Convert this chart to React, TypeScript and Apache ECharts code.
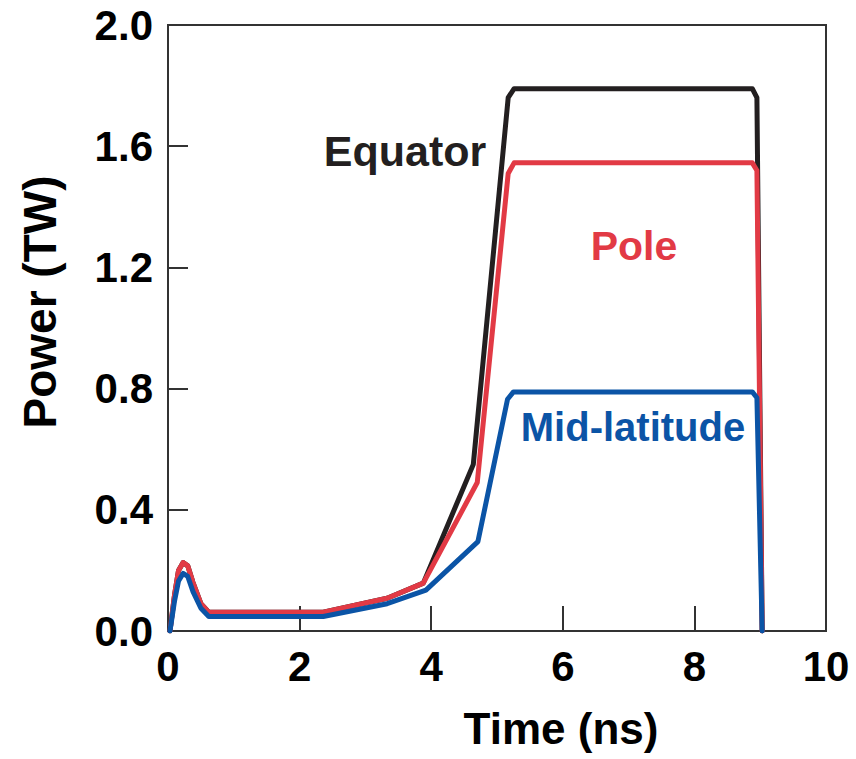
import React, { useEffect, useRef } from "react";
import * as echarts from "echarts";

const equator: [number, number][] = [
  [0.03, 0], [0.1, 0.12], [0.16, 0.2], [0.23, 0.226], [0.3, 0.215], [0.38, 0.16],
  [0.5, 0.09], [0.62, 0.062], [2.36, 0.062], [3.33, 0.108], [3.88, 0.158],
  [4.64, 0.55], [5.17, 1.76], [5.26, 1.79], [8.88, 1.79], [8.95, 1.76], [9.03, 0],
];
const pole: [number, number][] = [
  [0.03, 0], [0.1, 0.12], [0.16, 0.2], [0.23, 0.226], [0.3, 0.215], [0.38, 0.16],
  [0.5, 0.09], [0.62, 0.062], [2.36, 0.062], [3.33, 0.108], [3.88, 0.158],
  [4.7, 0.49], [5.17, 1.51], [5.26, 1.545], [8.88, 1.545], [8.95, 1.52], [9.03, 0],
];
const midLatitude: [number, number][] = [
  [0.03, 0], [0.1, 0.1], [0.16, 0.165], [0.23, 0.19], [0.3, 0.18], [0.38, 0.13],
  [0.5, 0.075], [0.62, 0.048], [2.36, 0.048], [3.33, 0.09], [3.92, 0.135],
  [4.71, 0.295], [5.16, 0.765], [5.25, 0.789], [8.88, 0.789], [8.95, 0.77], [9.03, 0],
];

const seriesNames = ["Equator", "Pole", "Mid-latitude"];
const seriesColors = ["#231f20", "#e23a45", "#0b54a6"];
const xTitle = "Time (ns)";
const yTitle = "Power (TW)";

export default function App() {
  const ref = useRef<HTMLDivElement>(null);
  useEffect(() => {
    if (!ref.current) return;
    const chart = echarts.init(ref.current, undefined, { renderer: "svg" });
    const font = "'Liberation Sans', Arial, Helvetica, sans-serif";
    const datasets = [equator, pole, midLatitude];
    chart.setOption({
      animation: false,
      backgroundColor: "#ffffff",
      grid: {
        left: 168, right: 30, top: 25, bottom: 128,
        show: true, borderColor: "#333333", borderWidth: 2, backgroundColor: "transparent",
      },
      xAxis: {
        type: "value", min: 0, max: 10, interval: 2,
        axisLine: { show: true, lineStyle: { color: "#333333", width: 2 } },
        axisTick: { show: true, inside: true, length: 25, lineStyle: { color: "#333333", width: 2 } },
        splitLine: { show: false },
        axisLabel: { color: "#000", fontSize: 42, fontWeight: "bold", fontFamily: font, margin: 14 },
      },
      yAxis: {
        type: "value", min: 0, max: 2, interval: 0.4,
        axisLine: { show: true, lineStyle: { color: "#333333", width: 2 } },
        axisTick: { show: true, inside: true, length: 20, lineStyle: { color: "#333333", width: 2 } },
        splitLine: { show: false },
        axisLabel: {
          color: "#000", fontSize: 42, fontWeight: "bold", fontFamily: font, margin: 15,
          formatter: (v: number) => v.toFixed(1),
        },
      },
      series: datasets.map((d, i) => ({
        name: seriesNames[i],
        type: "line",
        data: d,
        showSymbol: false,
        symbol: "none",
        lineStyle: { color: seriesColors[i], width: 5, join: "round", cap: "round" },
        z: 2 + i,
      })),
      graphic: [
        {
          type: "text", x: 561, y: 728,
          style: { text: xTitle, fontSize: 44, fontWeight: "bold", fontFamily: font, fill: "#000", align: "center", verticalAlign: "middle" },
        },
        {
          type: "text", x: 40, y: 302, rotation: Math.PI / 2,
          style: { text: yTitle, fontSize: 46, fontWeight: "bold", fontFamily: font, fill: "#000", align: "center", verticalAlign: "middle" },
        },
        {
          type: "text", x: 405, y: 151,
          style: { text: seriesNames[0], fontSize: 43, fontWeight: "bold", fontFamily: font, fill: seriesColors[0], align: "center", verticalAlign: "middle" },
        },
        {
          type: "text", x: 634, y: 246,
          style: { text: seriesNames[1], fontSize: 41, fontWeight: "bold", fontFamily: font, fill: seriesColors[1], align: "center", verticalAlign: "middle" },
        },
        {
          type: "text", x: 633, y: 427,
          style: { text: seriesNames[2], fontSize: 40, fontWeight: "bold", fontFamily: font, fill: seriesColors[2], align: "center", verticalAlign: "middle" },
        },
      ],
    });
    return () => chart.dispose();
  }, []);
  return <div ref={ref} style={{ width: 856, height: 759, position: "absolute", left: 0, top: 0 }} />;
}
